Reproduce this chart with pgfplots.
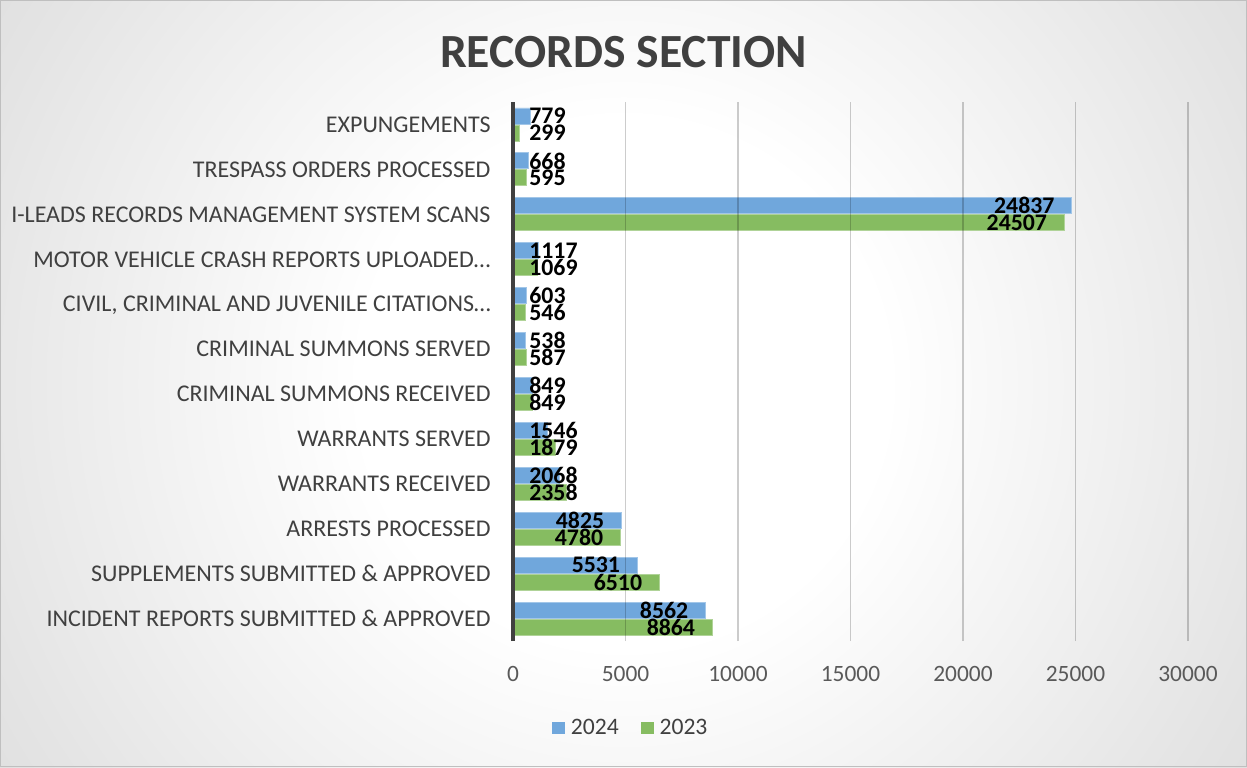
\documentclass[border=0pt]{standalone}
\usepackage{fontspec}
\setmainfont{Carlito}
\usepackage{pgfplots}
\pgfplotsset{compat=1.18}
\definecolor{bblue}{HTML}{70A7DC}
\definecolor{bgreen}{HTML}{86BC61}
\definecolor{txt}{HTML}{404040}
\definecolor{tickc}{HTML}{595959}
\definecolor{bord}{HTML}{BFBFBF}
\definecolor{bgA}{gray}{0.895}
\definecolor{bgB}{gray}{0.79}
\definecolor{bgC}{gray}{0.76}
\pgfdeclareradialshading{bgshade}{\pgfpoint{0bp}{0bp}}{color(0bp)=(white); color(9bp)=(white); color(23bp)=(bgA); color(39bp)=(bgB); color(50bp)=(bgC)}
\newcommand\computeshift[1]{%
  \begingroup
  \pgfkeys{/pgf/fpu=true,/pgf/fpu/output format=fixed}%
  \pgfmathparse{max(-8.5,8.5+6.0*(3+(#1>=1000)+(#1>=10000))-#1*0.01125)}%
  \xdef\labshiftval{\pgfmathresult}%
  \endgroup}
\begin{document}
\begin{tikzpicture}
\path[use as bounding box] (-256.5pt,-63pt) rectangle (367pt,320.5pt);
\begin{scope}
\clip (-256.5pt,-63pt) rectangle (367pt,320.5pt);
\shade[shading=bgshade] (-310.75pt,-237.25pt) rectangle (421.25pt,494.75pt);
\end{scope}
\draw[color=bord, line width=0.6pt] (-256.2pt,-62.7pt) rectangle (366.7pt,320.2pt);
\node[font=\bfseries\fontsize{23.8}{28}\selectfont, text=txt, anchor=base, inner sep=0pt] at (55.25pt,287pt) {RECORDS SECTION};
\begin{axis}[
  at={(0pt,0pt)}, anchor=south west,
  scale only axis, width=337.5pt, height=269.5pt,
  xbar, bar width=8pt,
  xmin=0, xmax=30000, ymin=-0.5, ymax=11.5,
  xtick={0,5000,...,30000},
  scaled x ticks=false,
  ytick={0,...,11},
  yticklabels={INCIDENT REPORTS SUBMITTED \& APPROVED, SUPPLEMENTS SUBMITTED \& APPROVED, ARRESTS PROCESSED, WARRANTS RECEIVED, WARRANTS SERVED, CRIMINAL SUMMONS RECEIVED, CRIMINAL SUMMONS SERVED, {CIVIL, CRIMINAL AND JUVENILE CITATIONS…}, MOTOR VEHICLE CRASH REPORTS UPLOADED…, I-LEADS RECORDS MANAGEMENT SYSTEM SCANS, TRESPASS ORDERS PROCESSED, EXPUNGEMENTS},
  axis y line*=left, axis x line*=bottom,
  x axis line style={draw=none},
  y axis line style={draw=txt, line width=2pt, -},
  major tick length=0pt,
  xmajorgrids,
  major grid style={black, opacity=0.2, line width=0.6pt},
  axis on top,
  xticklabel style={font=\fontsize{11.7}{13}\selectfont, text=tickc, anchor=base, yshift=-20pt, inner sep=0pt},
  yticklabel style={font=\fontsize{12}{13}\selectfont, text=txt, anchor=base east, inner sep=0pt, xshift=-11pt, yshift=-3.9pt},
  nodes near coords,
  visualization depends on={rawx \as \rawx},
  nodes near coords style={font=\bfseries\fontsize{11.9}{13}\selectfont, text=black, inner sep=0pt, anchor=east, /utils/exec={\computeshift{\rawx}}, xshift=\labshiftval pt},
  legend style={at={(0.176,-0.1615)}, anchor=center, draw=none, fill=none, legend columns=2, font=\fontsize{11.8}{13}\selectfont, text=txt, /tikz/every even column/.append style={column sep=9pt}, /tikz/every odd column/.append style={column sep=1pt}},
  legend image code/.code={\draw[#1,draw=none] (0pt,-3.2pt) rectangle (6.4pt,3.2pt);},
  /pgf/number format/1000 sep={},
  /pgf/number format/assume math mode=true,
]
\addplot[fill=bblue, draw=bblue!65!white, line width=0.4pt, bar shift=4.25pt] coordinates {
 (8562,0) (5531,1) (4825,2) (2068,3) (1546,4) (849,5) (538,6) (603,7) (1117,8) (24837,9) (668,10) (779,11)};
\addplot[fill=bgreen, draw=bgreen!65!white, line width=0.4pt, bar shift=-4.25pt] coordinates {
 (8864,0) (6510,1) (4780,2) (2358,3) (1879,4) (849,5) (587,6) (546,7) (1069,8) (24507,9) (595,10) (299,11)};
\legend{2024,2023}
\end{axis}
\end{tikzpicture}
\end{document}
